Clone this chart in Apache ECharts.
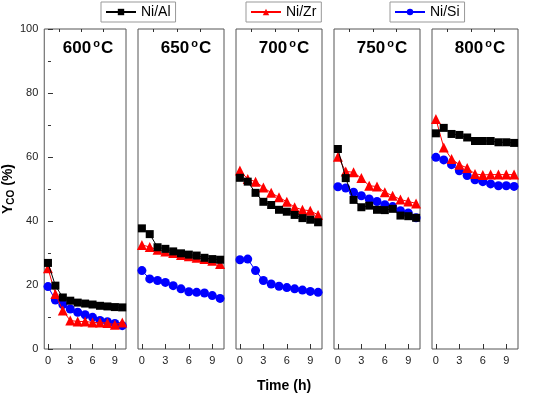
<!DOCTYPE html>
<html><head><meta charset="utf-8">
<script src="https://cdn.jsdelivr.net/npm/echarts@6/dist/echarts.min.js"></script>
<style>html,body{margin:0;padding:0;background:#fff}#c{width:550px;height:396px}</style>
</head><body><div id="c"></div>
<script>
// ---- data ----
const temps = ['600', '650', '700', '750', '800'];
const timeH = [0, 1, 2, 3, 4, 5, 6, 7, 8, 9, 10];
const xMajorTicks = [0, 3, 6, 9];
const xMinorTicks = [1.5, 4.5, 7.5];
const seriesNames = ['Ni/Al', 'Ni/Zr', 'Ni/Si'];
// Y_CO (%) per temperature panel
const niAl600 = [26.9, 19.8, 16.1, 15.1, 14.5, 14.2, 13.9, 13.5, 13.3, 13.1, 13.0];
const niZr600 = [25.2, 17.2, 12.0, 8.9, 8.6, 8.6, 8.3, 8.3, 8.1, 7.6, 8.3];
const niSi600 = [19.5, 15.3, 13.9, 12.5, 11.5, 10.7, 9.9, 8.9, 8.5, 8.0, 7.3];
const niAl650 = [37.7, 35.9, 31.8, 31.3, 30.5, 29.9, 29.5, 29.2, 28.5, 28.1, 27.9];
const niZr650 = [32.5, 31.9, 31.0, 30.5, 30.0, 29.4, 29.0, 28.5, 28.1, 27.6, 26.6];
const niSi650 = [24.5, 21.9, 21.4, 20.8, 19.8, 18.8, 17.9, 17.7, 17.5, 16.7, 15.8];
const niAl700 = [53.5, 52.3, 48.8, 46.0, 45.0, 43.5, 42.9, 41.9, 40.9, 40.4, 39.6];
const niZr700 = [55.8, 53.1, 52.3, 50.5, 48.8, 47.4, 46.0, 44.3, 43.5, 43.2, 41.9];
const niSi700 = [27.9, 28.1, 24.5, 21.4, 20.3, 19.6, 19.2, 18.8, 18.4, 18.0, 17.7];
const niAl750 = [62.5, 53.4, 46.6, 44.3, 44.8, 43.5, 43.4, 43.8, 41.7, 41.5, 41.0];
const niZr750 = [60.1, 55.5, 55.2, 53.4, 51.0, 50.8, 49.0, 47.9, 46.7, 46.1, 45.5];
const niSi750 = [50.7, 50.3, 49.0, 47.9, 46.9, 46.1, 45.1, 44.5, 43.2, 42.5, 41.0];
const niAl800 = [67.4, 69.1, 67.2, 66.9, 66.1, 65.0, 65.0, 65.0, 64.6, 64.6, 64.4];
const niZr800 = [71.9, 63.0, 59.4, 57.6, 56.6, 54.7, 54.4, 54.5, 54.5, 54.5, 54.5];
const niSi800 = [59.9, 59.1, 57.6, 55.7, 54.2, 52.9, 52.3, 51.6, 51.0, 51.0, 50.8];
const yTicks = [0, 20, 40, 60, 80, 100];

const panelData = [
  [niAl600, niZr600, niSi600],
  [niAl650, niZr650, niSi650],
  [niAl700, niZr700, niSi700],
  [niAl750, niZr750, niSi750],
  [niAl800, niZr800, niSi800]
];

// ---- layout / style ----
const panelLeft = [40, 138, 236, 334, 432];
const panelW = 86;
const gridTop = 29, gridBottom = 47; // 396-349
const colors = ['#000000', '#ff0000', '#0000ff'];
const symbols = ['rect', 'triangle', 'circle'];
const symSizes = [8, 10, 9];
const FONT = 'Arial, "Liberation Sans", sans-serif';

const grid = [], xAxis = [], yAxis = [], series = [], title = [];
panelLeft.forEach((l, i) => {
  grid.push({left: l, width: panelW, top: gridTop, bottom: gridBottom, show: true,
    borderColor: '#555', borderWidth: 1, backgroundColor: 'transparent'});
  // major x ticks
  xAxis.push({type: 'value', gridIndex: i, min: -0.5, max: 10.5,
    axisLine: {show: false}, splitLine: {show: false},
    axisTick: {show: true, inside: true, length: 5, customValues: xMajorTicks, lineStyle: {color: '#333'}},
    axisLabel: {show: true, customValues: xMajorTicks, fontSize: 11, color: '#222', fontFamily: FONT, margin: 6}});
  // minor x ticks
  xAxis.push({type: 'value', gridIndex: i, min: -0.5, max: 10.5,
    axisLine: {show: false}, splitLine: {show: false},
    axisTick: {show: true, inside: true, length: 3, customValues: xMinorTicks, lineStyle: {color: '#333'}},
    axisLabel: {show: false}});
  const ya = {type: 'value', gridIndex: i, min: 0, max: 100, interval: 20,
    axisLine: {show: false}, splitLine: {show: false},
    axisTick: {show: i === 0, inside: true, length: 5, lineStyle: {color: '#333'}},
    minorTick: {show: i === 0, splitNumber: 2, length: 3, lineStyle: {color: '#333'}},
    axisLabel: {show: i === 0, fontSize: 11, color: '#222', fontFamily: FONT, margin: 6}};
  if (i === 0) {
    ya.name = '{b|Y}{s|CO}{b| (%)}';
    ya.nameLocation = 'middle';
    ya.nameRotate = 90;
    ya.nameGap = 23;
    ya.nameTextStyle = {rich: {
      b: {fontSize: 14, fontWeight: 'bold', fontFamily: FONT, color: '#000'},
      s: {fontSize: 10, fontWeight: 'bold', fontFamily: FONT, color: '#000', padding: [6, 0, 0, 0]}
    }};
  }
  yAxis.push(ya);
  title.push({text: '{a|' + temps[i] + '}{o|o}{a|C}', left: l + panelW / 2, top: 33, textAlign: 'center',
    textStyle: {rich: {
      a: {fontSize: 17, fontWeight: 'bold', fontFamily: FONT, color: '#000', lineHeight: 20},
      o: {fontSize: 11, fontWeight: 'bold', fontFamily: FONT, color: '#000', verticalAlign: 'top', lineHeight: 20, padding: [0, 1, 9, 2]}
    }}});
  panelData[i].forEach((vals, k) => {
    series.push({type: 'line', name: seriesNames[k], xAxisIndex: 2 * i, yAxisIndex: i,
      data: timeH.map((t, j) => [t, vals[j]]),
      symbol: symbols[k], symbolSize: symSizes[k],
      itemStyle: {color: colors[k]}, lineStyle: {color: colors[k], width: 1},
      z: 3 - k + 2, animation: false});
  });
});
title.push({text: 'Time (h)', left: 279, top: 374, textAlign: 'center',
  textStyle: {fontSize: 14, fontWeight: 'bold', fontFamily: FONT, color: '#000'}});

const legendLefts = [101, 246, 390];
const legend = seriesNames.map((n, k) => ({
  data: [n], left: legendLefts[k], top: 2, orient: 'horizontal',
  itemWidth: 30, itemHeight: 8, itemGap: 4,
  borderColor: '#999', borderWidth: 1, padding: [3, 5, 3, 4],
  textStyle: {fontSize: 14, fontFamily: FONT, color: '#000', padding: [0, 0, 0, 0]},
  selectedMode: false
}));

const chart = echarts.init(document.getElementById('c'), null, {renderer: 'canvas'});
chart.setOption({backgroundColor: '#fff', animation: false, grid, xAxis, yAxis, series, title, legend});
</script></body></html>
